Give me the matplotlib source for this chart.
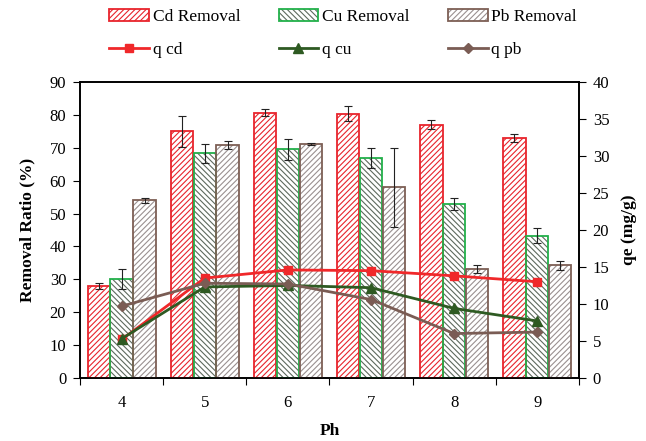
import matplotlib
matplotlib.use("Agg")
import matplotlib.pyplot as plt
from matplotlib.patches import Patch
from matplotlib.legend_handler import HandlerTuple
import numpy as np

plt.rcParams['font.family'] = ['Liberation Serif', 'DejaVu Serif']
plt.rcParams['hatch.linewidth'] = 0.8

ph = ['4', '5', '6', '7', '8', '9']

# removal ratio (%) and error
cd_rem = [28.0, 75.0, 80.7, 80.3, 77.0, 73.0]
cd_err = [1.0, 4.8, 1.1, 2.3, 1.3, 1.3]
cu_rem = [30.0, 68.3, 69.6, 67.0, 53.0, 43.3]
cu_err = [3.0, 2.8, 3.2, 3.0, 1.8, 2.4]
pb_rem = [54.0, 70.8, 71.1, 58.0, 33.0, 34.3]
pb_err = [0.7, 1.2, 0.3, 12.0, 1.2, 1.4]

# qe (mg/g)
q_cd = [5.2, 13.5, 14.6, 14.5, 13.8, 13.0]
q_cu = [5.3, 12.3, 12.5, 12.2, 9.4, 7.7]
q_pb = [9.7, 12.8, 12.7, 10.6, 6.0, 6.2]

x = np.arange(len(ph))
w = 0.27
off = 0.275

fig = plt.figure(figsize=(6.46, 4.41), dpi=100)
ax = fig.add_axes([0.124, 0.143, 0.772, 0.671])

# (values, errors, offset, edge colour, hatch colour, hatch)
series = [
    (cd_rem, cd_err, -off, '#e8242c', '#e8242c', '//////'),
    (cu_rem, cu_err, 0.0, '#22b04a', '#5e6a5e', '\\\\\\\\\\\\'),
    (pb_rem, pb_err, off, '#7d5f55', '#9a9090', '//////'),
]
handles_bar = []
for vals, errs, o, ec, hc, h in series:
    ax.bar(x + o, vals, w, color='white', edgecolor=hc, hatch=h, linewidth=0, zorder=2)
    ax.bar(x + o, vals, w, color='none', edgecolor=ec, linewidth=1.3, zorder=3)
    ax.errorbar(x + o, vals, yerr=errs, fmt='none', ecolor='#222222', elinewidth=0.8,
                capsize=3, capthick=0.8, zorder=4)
    handles_bar.append((Patch(facecolor='white', edgecolor=hc, hatch=h, linewidth=0),
                        Patch(facecolor='none', edgecolor=ec, linewidth=1.3)))

ax.set_xlim(-0.5, 5.5)
ax.set_ylim(0, 90)
ax.set_yticks(range(0, 91, 10))
ax.set_xticks(np.arange(-0.5, 6, 1))
ax.set_xticklabels([])
ax.set_xticks(x, minor=True)
ax.set_xticklabels(ph, minor=True)
ax.tick_params(axis='x', which='major', direction='out', length=5)
ax.tick_params(axis='x', which='minor', length=0, pad=12, labelsize=12)
ax.tick_params(axis='y', direction='out', length=5, pad=5, labelsize=12)
ax.set_ylabel('Removal Ratio (%)', fontsize=12.5, fontweight='bold', labelpad=10)
ax.set_xlabel('Ph', fontsize=12.5, fontweight='bold', labelpad=9)

ax2 = ax.twinx()
l1, = ax2.plot(x, q_cd, color='#f0282a', marker='s', markersize=6, linewidth=2, label='q cd', zorder=5)
l2, = ax2.plot(x, q_cu, color='#2e5a22', marker='^', markersize=7, linewidth=2, label='q cu', zorder=5)
l3, = ax2.plot(x, q_pb, color='#7a5c54', marker='D', markersize=5, linewidth=2, label='q pb', zorder=5)
ax2.set_ylim(0, 40)
ax2.set_yticks(range(0, 41, 5))
ax2.tick_params(axis='y', direction='out', length=5, pad=5, labelsize=12)
ax2.set_ylabel('qe (mg/g)', fontsize=12.5, fontweight='bold', labelpad=8)

for a in (ax, ax2):
    for s in a.spines.values():
        s.set_linewidth(1.2)

handles = [handles_bar[0], l1, handles_bar[1], l2, handles_bar[2], l3]
labels = ['Cd Removal', 'q cd', 'Cu Removal', 'q cu', 'Pb Removal', 'q pb']
fig.legend(handles, labels, ncol=3, loc='upper left', bbox_to_anchor=(0.145, 1.015),
           frameon=False, fontsize=12.5, handlelength=2.3, handletextpad=0.2,
           columnspacing=2.2, labelspacing=0.95,
           handler_map={tuple: HandlerTuple(ndivide=1, pad=0)})

fig.savefig('out.png', dpi=100)
